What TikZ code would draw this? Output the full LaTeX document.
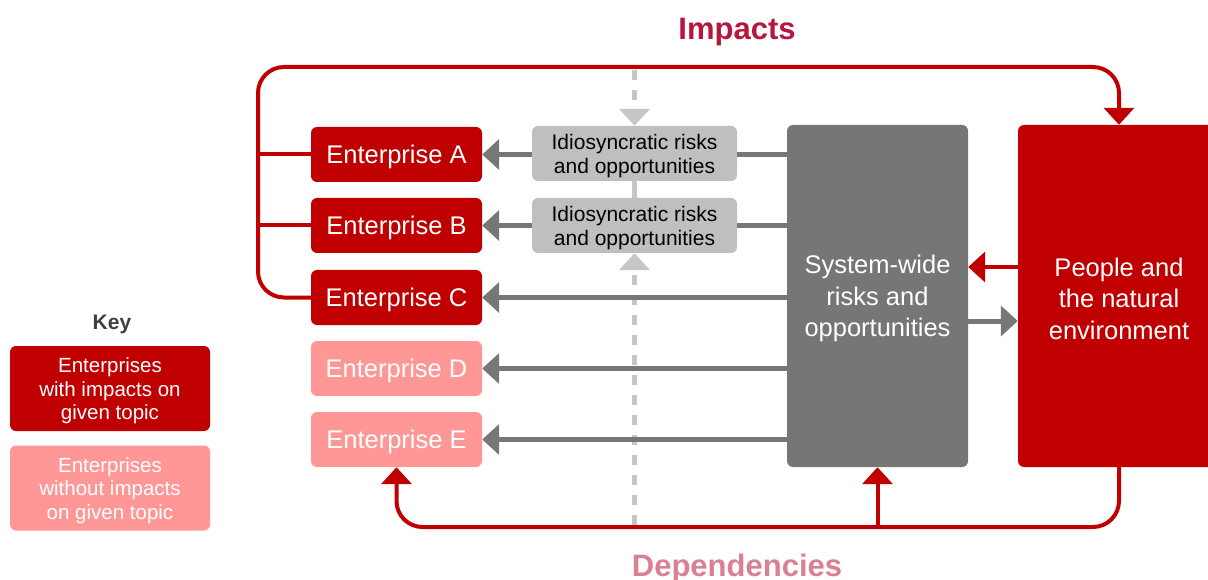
\documentclass[tikz,border=0pt]{standalone}
\usepackage{fontspec}
\setmainfont{Liberation Sans}
\usetikzlibrary{arrows.meta}
\definecolor{entred}{HTML}{C00000}
\definecolor{entpink}{HTML}{FF9797}
\definecolor{idgray}{HTML}{BFBFBF}
\definecolor{sysgray}{HTML}{767676}
\definecolor{flowgray}{HTML}{777777}
\definecolor{dashgray}{HTML}{C6C6C6}
\definecolor{impactcol}{HTML}{B5163D}
\definecolor{depcol}{HTML}{DB8093}
\definecolor{keytext}{HTML}{404040}

\begin{document}
\begin{tikzpicture}[x=1pt,y=-1pt,
  bigtip/.tip={Triangle[length=17pt,width=30pt]},
  % box shapes carry their text as a centred label, set slightly low
  boxtext/.style={align=center, yshift=-2.5pt, inner sep=0pt},
  entbox/.style={rounded corners=6pt, minimum width=171pt, minimum height=55pt, inner sep=0pt},
  impent/.style={entbox, fill=entred,
    label={[boxtext, text=white, font=\fontsize{25.5}{30}\selectfont]center:#1}},
  noent/.style={entbox, fill=entpink,
    label={[boxtext, text=white, font=\fontsize{25.5}{30}\selectfont]center:#1}},
  idbox/.style={rounded corners=6pt, fill=idgray, minimum width=205pt, minimum height=55pt,
    inner sep=0pt,
    label={[boxtext, text=black, font=\fontsize{21}{24}\selectfont]center:#1}},
  bigbox/.style={rounded corners=6pt, minimum width=181pt, minimum height=342pt, inner sep=0pt},
  bigtext/.style={label={[boxtext, text=white, font=\fontsize{25.5}{31.5}\selectfont]center:#1}},
  keybox/.style={rounded corners=6pt, minimum width=200pt, minimum height=85pt, inner sep=0pt},
  keytxt/.style={label={[boxtext, text=white, font=\fontsize{20.5}{23.5}\selectfont]center:#1}},
  redline/.style={draw=entred, line width=4pt},
  grayline/.style={draw=flowgray, line width=5pt},
  dashline/.style={draw=dashgray, line width=5pt, dash pattern=on 10pt off 10pt},
  solidlight/.style={draw=dashgray, line width=5pt},
  title/.style={font=\fontsize{31}{36}\selectfont\bfseries}
]
\useasboundingbox (0,0) rectangle (1208,580);

% enterprises
\node[impent={Enterprise A}] (entA) at (396.5,154.5) {};
\node[impent={Enterprise B}] (entB) at (396.5,225.5) {};
\node[impent={Enterprise C}] (entC) at (396.5,297.5) {};
\node[noent={Enterprise D}]  (entD) at (396.5,368.5) {};
\node[noent={Enterprise E}]  (entE) at (396.5,439.5) {};

% idiosyncratic risk boxes
\node[idbox={Idiosyncratic risks\\and opportunities}] (idA) at (634.5,153.5) {};
\node[idbox={Idiosyncratic risks\\and opportunities}] (idB) at (634.5,225.5) {};

% system-wide and people boxes
\node[bigbox, fill=sysgray, bigtext={System-wide\\risks and\\opportunities}] (sys) at (877.5,296) {};
\node[bigbox, fill=entred, minimum width=202pt,
      bigtext={People and\\the natural\\environment}] (ppl) at (1119,296) {};

% key
\node[font=\fontsize{21}{24}\selectfont\bfseries, text=keytext] (keyt) at (112,324) {Key};
\node[keybox, fill=entred, keytxt={Enterprises\\with impacts on\\given topic}] (key1) at (110,388.5) {};
\node[keybox, fill=entpink, keytxt={Enterprises\\without impacts\\on given topic}] (key2) at (110,488) {};

% titles
\node[title, text=impactcol] (imp) at (737,32) {Impacts};
\node[title, text=depcol] (dep) at (737,568.5) {Dependencies};

% helper coordinates
\coordinate (topbus) at (258,67);
\coordinate (lowbus) at (258,297.5);
\coordinate (busA) at (258,154.5);
\coordinate (busB) at (258,225.5);
\coordinate (toprow) at (0,67);
\coordinate (botrow) at (0,527);
\coordinate (rowin) at (0,267);
\coordinate (rowout) at (0,321);
\coordinate (dtop) at (634.5,70);
\coordinate (dbot) at (634.5,525);

% dashed vertical link
\draw[dashline, -bigtip, dashgray] (dtop) -- (idA.north);
\draw[solidlight] (idA.south) -- (idB.north);
\draw[dashline, -bigtip, dashgray] (dbot) -- (idB.south);

% impacts loop
\draw[redline, -bigtip, entred, rounded corners=26pt]
  (entC.west) -- (lowbus) -- (topbus) -- (ppl.north |- toprow) -- (ppl.north);
\draw[redline] (busA) -- (entA.west);
\draw[redline] (busB) -- (entB.west);

% dependencies loop
\draw[redline, -bigtip, entred, rounded corners=26pt]
  (ppl.south) -- (ppl.south |- botrow) -- (entE.south |- botrow) -- (entE.south);
\draw[redline, -bigtip, entred] (sys.south |- botrow) -- (sys.south);

% flows between system-wide and people
\draw[redline, -bigtip, entred] (ppl.west |- rowin) -- (sys.east |- rowin);
\draw[grayline, -bigtip, flowgray] (sys.east |- rowout) -- (ppl.west |- rowout);

% risk flows to enterprises
\draw[grayline] (sys.west |- entA) -- (idA.east |- entA);
\draw[grayline, -bigtip, flowgray] (idA.west |- entA) -- (entA.east);
\draw[grayline] (sys.west |- idB) -- (idB.east);
\draw[grayline, -bigtip, flowgray] (idB.west) -- (entB.east);
\draw[grayline, -bigtip, flowgray] (sys.west |- entC) -- (entC.east);
\draw[grayline, -bigtip, flowgray] (sys.west |- entD) -- (entD.east);
\draw[grayline, -bigtip, flowgray] (sys.west |- entE) -- (entE.east);
\end{tikzpicture}
\end{document}
